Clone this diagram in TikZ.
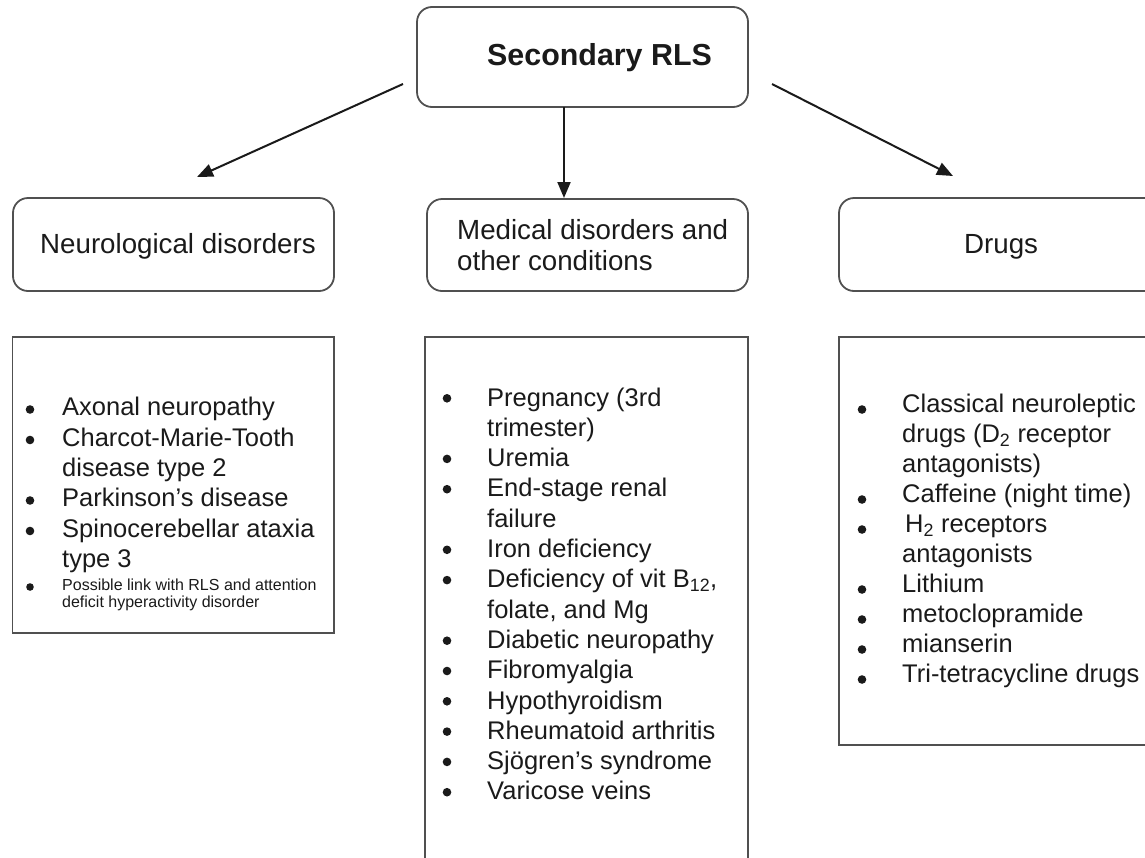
\documentclass[tikz,border=0pt]{standalone}
\usepackage{fontspec}
\setmainfont{Liberation Sans}
\usetikzlibrary{arrows.meta}
\definecolor{boxline}{HTML}{505050}
\definecolor{ink}{HTML}{1A1A1A}
\begin{document}
\begin{tikzpicture}[x=1pt,y=-1pt,
  rbox/.style={draw=boxline, line width=1.8pt, rounded corners=15pt, inner sep=0pt, fill=none},
  sbox/.style={draw=boxline, line width=1.8pt, inner sep=0pt},
  hdr/.style={text=ink, inner sep=0pt, anchor=base west, font=\fontsize{27.7}{31}\selectfont},
  ttl/.style={text=ink, inner sep=0pt, anchor=base west, font=\fontsize{30.4}{34}\selectfont\bfseries},
  lst/.style={text=ink, inner sep=0pt, anchor=base west, font=\fontsize{25.5}{30}\selectfont},
  sml/.style={text=ink, inner sep=0pt, anchor=base west, font=\fontsize{16}{17}\selectfont},
  bul/.style={circle, fill=ink, inner sep=0pt, minimum size=8.6pt},
  arr/.style={draw=ink, line width=2pt, -{Triangle[length=16pt,width=13pt]}}]
\useasboundingbox (0,0) rectangle (1145,857);
\clip (0,0) rectangle (1145,857);
% header boxes
\node[rbox, minimum width=331pt, minimum height=100pt] (top) at (582.5,57) {};
\node[rbox, minimum width=321pt, minimum height=93pt] (neuro) at (173.5,244.5) {};
\node[rbox, minimum width=321pt, minimum height=92pt] (med) at (587.5,245) {};
\node[rbox, minimum width=322pt, minimum height=93pt] (drugs) at (1000,244.5) {};
% list boxes
\node[sbox, minimum width=321.5pt, minimum height=296pt] (neurolist) at (173.25,485) {};
\node[sbox, minimum width=323pt, minimum height=543pt] (medlist) at (586.5,608.5) {};
\node[sbox, minimum width=322pt, minimum height=408pt] (druglist) at (1000,541) {};
% header texts
\node[ttl] (ttext) at (487,65) {Secondary RLS};
\node[hdr] (ntext) at (40,253) {Neurological disorders};
\node[hdr] (mtext1) at (457,239) {Medical disorders and};
\node[hdr] (mtext2) at (457,270) {other conditions};
\node[hdr] (dtext) at (964,253) {Drugs};
% arrows
\coordinate (a1s) at (403,84);
\coordinate (a1e) at (197,177);
\coordinate (a2s) at (564,107);
\coordinate (a2e) at (564,198);
\coordinate (a3s) at (772,84);
\coordinate (a3e) at (953,176);
\draw[arr] (a1s) -- (a1e);
\draw[arr] (a2s) -- (a2e);
\draw[arr] (a3s) -- (a3e);
% left list
\node[bul] (nb1) at (30,409.5) {};
\node[lst] (n1) at (62,415.5) {Axonal neuropathy};
\node[bul] (nb2) at (30,440) {};
\node[lst] (n2) at (62,446) {Charcot-Marie-Tooth};
\node[lst] (n2b) at (62,476.3) {disease type 2};
\node[bul] (nb3) at (30,500.5) {};
\node[lst] (n3) at (62,506.6) {Parkinson’s disease};
\node[bul] (nb4) at (30,531) {};
\node[lst] (n4) at (62,537) {Spinocerebellar ataxia};
\node[lst] (n4b) at (62,567.3) {type 3};
\node[bul, minimum size=7.6pt] (nb5) at (30,587) {};
\node[sml] (n5) at (62,590.5) {Possible link with RLS and attention};
\node[sml] (n5b) at (62,607.5) {deficit hyperactivity disorder};
% middle list
\node[bul] (mb1) at (447,398.3) {};
\node[lst] (m1) at (487,406) {Pregnancy (3rd};
\node[lst] (m1b) at (487,436.3) {trimester)};
\node[bul] (mb2) at (447,458.9) {};
\node[lst] (m2) at (487,466.6) {Uremia};
\node[bul] (mb3) at (447,489.2) {};
\node[lst] (m3) at (487,496.9) {End-stage renal};
\node[lst] (m3b) at (487,527.2) {failure};
\node[bul] (mb4) at (447,549.8) {};
\node[lst] (m4) at (487,557.5) {Iron deficiency};
\node[bul] (mb5) at (447,580.1) {};
\node[lst] (m5) at (487,587.8) {Deficiency of vit B\textsubscript{12},};
\node[lst] (m5b) at (487,618.1) {folate, and Mg};
\node[bul] (mb6) at (447,640.7) {};
\node[lst] (m6) at (487,648.4) {Diabetic neuropathy};
\node[bul] (mb7) at (447,671) {};
\node[lst] (m7) at (487,678.7) {Fibromyalgia};
\node[bul] (mb8) at (447,701.3) {};
\node[lst] (m8) at (487,709) {Hypothyroidism};
\node[bul] (mb9) at (447,731.6) {};
\node[lst] (m9) at (487,739.3) {Rheumatoid arthritis};
\node[bul] (mb10) at (447,761.9) {};
\node[lst] (m10) at (487,769.6) {Sjögren’s syndrome};
\node[bul] (mb11) at (447,792.2) {};
\node[lst] (m11) at (487,799.9) {Varicose veins};
% right list
\node[bul] (db1) at (862,409.5) {};
\node[lst] (d1) at (902,412.5) {Classical neuroleptic};
\node[lst] (d1b) at (902,442.5) {drugs (D\textsubscript{2} receptor};
\node[lst] (d1c) at (902,472.5) {antagonists)};
\node[bul] (db2) at (862,499.5) {};
\node[lst] (d2) at (902,502.5) {Caffeine (night time)};
\node[bul] (db3) at (862,529.5) {};
\node[lst] (d3) at (905,532.5) {H\textsubscript{2} receptors};
\node[lst] (d3b) at (902,562.5) {antagonists};
\node[bul] (db4) at (862,589.5) {};
\node[lst] (d4) at (902,592.5) {Lithium};
\node[bul] (db5) at (862,619.5) {};
\node[lst] (d5) at (902,622.5) {metoclopramide};
\node[bul] (db6) at (862,649.5) {};
\node[lst] (d6) at (902,652.5) {mianserin};
\node[bul] (db7) at (862,679.5) {};
\node[lst] (d7) at (902,682.5) {Tri-tetracycline drugs};
\end{tikzpicture}
\end{document}
